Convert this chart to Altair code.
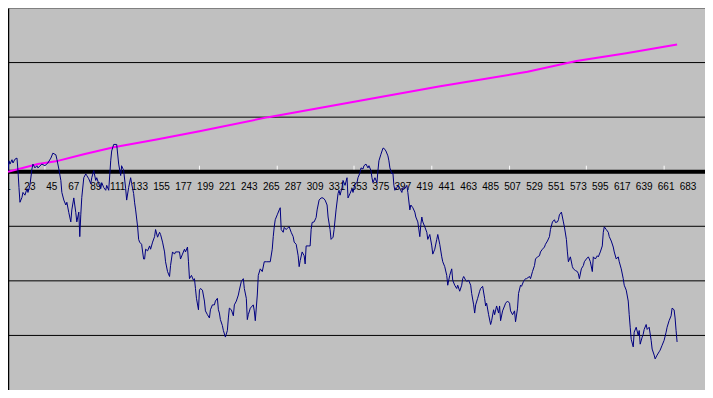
import altair as alt
import pandas as pd

# Category axis labels (every 22nd category)
label_cats = [1, 23, 45, 67, 89, 111, 133, 155, 177, 199, 221, 243, 265, 287, 309,
              331, 353, 375, 397, 419, 441, 463, 485, 507, 529, 551, 573, 595, 617,
              639, 661, 683]

# Small tick marks on the category axis
axis_tick_cats = [38, 116, 193, 271, 348, 426, 504, 581, 659]

# Horizontal gridline levels
grid_values = [-3, -2, -1, 1, 2]

# Rising (magenta) series
trend_cat = [1, 31, 49, 77, 107, 150, 193, 262, 344, 433, 522, 571, 621, 672]
trend_val = [0.00, 0.14, 0.19, 0.32, 0.45, 0.59, 0.74, 1.00, 1.27, 1.56, 1.83, 2.03, 2.17, 2.33]

# Random-walk (navy) series: (category, value)
walk_points = [
    (1, 0.02), (2, 0.20), (3, 0.14), (5, 0.22), (6, 0.16), (8, 0.23), (10, 0.25), (11, 0.02),
    (12, -0.29), (13, -0.56), (15, -0.47), (16, -0.38), (18, -0.43), (20, -0.31), (21, -0.38),
    (23, -0.25), (25, 0.05), (26, 0.14), (28, 0.07), (30, 0.11), (31, 0.07), (35, 0.14),
    (38, 0.11), (41, 0.16), (44, 0.25), (46, 0.34), (49, 0.31), (50, 0.23), (52, 0.05),
    (54, -0.16), (55, -0.38), (57, -0.52), (59, -0.61), (60, -0.56), (62, -0.75), (64, -0.92),
    (65, -0.70), (67, -0.48), (69, -0.75), (70, -0.92), (72, -0.74), (73, -1.19), (74, -0.79),
    (75, -0.47), (77, -0.11), (79, -0.04), (80, -0.07), (82, -0.13), (84, -0.22), (85, -0.11),
    (87, 0.02), (89, -0.16), (90, -0.11), (92, -0.22), (94, -0.31), (95, -0.20), (97, -0.29),
    (99, -0.34), (100, -0.25), (102, -0.34), (104, 0.20), (105, 0.38), (107, 0.50), (110, 0.50),
    (112, 0.14), (114, -0.07), (115, 0.11), (117, 0.02), (119, -0.31), (120, -0.52),
    (122, -0.29), (124, -0.11), (125, -0.22), (127, -0.40), (128, -0.57), (129, -0.70),
    (131, -1.01), (132, -1.24), (133, -1.29), (135, -1.33), (137, -1.60), (138, -1.60),
    (139, -1.42), (141, -1.45), (143, -1.36), (144, -1.42), (146, -1.29), (148, -1.19),
    (149, -1.06), (151, -1.20), (153, -1.11), (154, -1.15), (156, -1.29), (158, -1.47),
    (159, -1.65), (161, -1.83), (163, -1.92), (164, -1.72), (166, -1.47), (168, -1.51),
    (169, -1.47), (173, -1.47), (174, -1.60), (176, -1.51), (178, -1.42), (179, -1.47),
    (181, -1.38), (182, -1.65), (183, -1.96), (185, -1.90), (187, -1.99), (188, -1.96),
    (189, -2.14), (190, -2.32), (192, -2.53), (193, -2.17), (194, -2.14), (196, -2.17),
    (198, -2.37), (199, -2.55), (201, -2.62), (203, -2.68), (204, -2.53), (206, -2.44),
    (208, -2.44), (209, -2.37), (211, -2.32), (212, -2.53), (213, -2.59), (214, -2.71),
    (216, -2.82), (217, -2.91), (219, -3.03), (221, -2.91), (222, -2.68), (223, -2.50),
    (225, -2.53), (227, -2.64), (228, -2.44), (230, -2.37), (232, -2.26), (233, -2.17),
    (235, -2.01), (237, -1.96), (238, -2.14), (240, -2.32), (241, -2.71), (242, -2.62),
    (244, -2.50), (247, -2.44), (248, -2.55), (249, -2.73), (251, -2.26), (252, -1.90),
    (254, -1.78), (256, -1.83), (258, -1.65), (260, -1.65), (264, -1.65), (266, -1.42),
    (267, -1.19), (268, -1.01), (269, -0.88), (271, -0.79), (273, -0.70), (274, -0.66),
    (275, -1.06), (277, -1.11), (278, -1.02), (280, -1.06), (282, -1.02), (283, -1.01),
    (285, -1.11), (287, -1.19), (288, -1.29), (290, -1.33), (292, -1.54), (293, -1.74),
    (294, -1.63), (296, -1.47), (298, -1.54), (299, -1.69), (300, -1.36), (302, -1.36),
    (304, -1.36), (305, -1.06), (306, -0.93), (308, -0.92), (310, -0.84), (311, -0.70),
    (313, -0.52), (315, -0.48), (317, -0.48), (319, -0.52), (321, -0.61), (322, -0.83),
    (324, -1.06), (325, -1.24), (327, -1.20), (328, -1.06), (330, -0.70), (332, -0.40),
    (333, -0.34), (334, -0.43), (336, -0.29), (337, -0.16), (339, -0.25), (341, -0.11),
    (342, -0.48), (344, -0.40), (346, -0.31), (347, -0.38), (349, -0.22), (351, -0.20),
    (352, -0.11), (354, -0.02), (355, 0.07), (357, 0.05), (358, 0.11), (360, 0.14),
    (362, 0.07), (363, 0.11), (365, 0.02), (366, -0.11), (367, -0.20), (369, -0.11),
    (371, -0.20), (372, 0.02), (373, 0.20), (375, 0.32), (377, 0.43), (378, 0.43),
    (380, 0.38), (382, 0.29), (383, 0.20), (384, 0.07), (386, -0.04), (387, -0.02),
    (388, -0.25), (389, -0.34), (391, -0.29), (392, -0.25), (394, -0.31), (396, -0.38),
    (397, -0.29), (399, -0.31), (401, -0.25), (402, -0.38), (404, -0.70), (405, -0.61),
    (407, -0.66), (409, -0.74), (410, -0.83), (412, -0.92), (414, -1.19), (415, -0.97),
    (416, -0.83), (417, -0.92), (419, -1.01), (421, -1.11), (422, -1.24), (424, -1.15),
    (426, -1.36), (427, -1.51), (429, -1.42), (431, -1.24), (432, -1.15), (434, -1.33),
    (436, -1.56), (437, -1.65), (439, -1.74), (441, -1.90), (442, -2.08), (444, -1.90),
    (446, -1.78), (447, -1.99), (449, -2.08), (451, -2.14), (452, -2.08), (454, -2.19),
    (456, -2.08), (457, -1.96), (458, -1.92), (460, -1.99), (461, -2.01), (463, -1.99),
    (465, -2.08), (466, -2.23), (468, -2.44), (469, -2.59), (470, -2.44), (472, -2.32),
    (474, -2.19), (475, -2.14), (477, -2.10), (479, -2.32), (480, -2.46), (481, -2.41),
    (483, -2.62), (485, -2.80), (486, -2.73), (488, -2.53), (489, -2.62), (491, -2.46),
    (493, -2.59), (494, -2.46), (495, -2.73), (497, -2.55), (499, -2.46), (500, -2.41),
    (502, -2.37), (504, -2.41), (505, -2.55), (507, -2.62), (509, -2.55), (510, -2.75),
    (512, -2.50), (513, -2.23), (515, -2.08), (516, -2.10), (518, -2.01), (520, -1.96),
    (521, -1.96), (524, -1.92), (525, -1.96), (527, -1.83), (529, -1.72), (530, -1.60),
    (532, -1.56), (534, -1.54), (535, -1.47), (537, -1.42), (539, -1.38), (540, -1.33),
    (542, -1.27), (544, -1.19), (545, -1.06), (547, -0.92), (549, -0.88), (550, -0.93),
    (552, -0.92), (553, -0.88), (554, -0.79), (556, -0.74), (558, -0.92), (559, -1.01),
    (561, -1.24), (562, -1.47), (563, -1.65), (565, -1.56), (567, -1.74), (568, -1.78),
    (570, -1.81), (572, -1.83), (573, -1.87), (574, -1.96), (576, -1.78), (578, -1.72),
    (579, -1.65), (581, -1.60), (583, -1.56), (584, -1.60), (585, -1.65), (587, -1.83),
    (588, -1.56), (590, -1.60), (592, -1.54), (593, -1.56), (595, -1.47), (597, -1.36),
    (598, -1.11), (599, -1.01), (601, -1.06), (603, -1.11), (604, -1.19), (606, -1.27),
    (608, -1.38), (609, -1.47), (611, -1.60), (613, -1.56), (614, -1.65), (616, -1.78),
    (618, -1.96), (619, -2.08), (621, -2.17), (623, -2.37), (624, -2.62), (625, -2.85),
    (626, -3.07), (628, -3.21), (629, -2.94), (631, -2.85), (633, -3.00), (634, -2.91),
    (635, -3.16), (637, -3.03), (638, -2.98), (639, -2.89), (641, -2.80), (642, -2.89),
    (644, -2.85), (646, -3.09), (647, -3.25), (649, -3.36), (650, -3.43), (652, -3.36),
    (654, -3.30), (655, -3.27), (657, -3.18), (659, -3.09), (661, -2.94), (662, -2.85),
    (664, -2.73), (666, -2.64), (667, -2.50), (669, -2.53), (670, -2.68), (671, -2.91),
    (672, -3.12),
]
walk_cat = [p[0] for p in walk_points]
walk_val = [p[1] for p in walk_points]

xscale = alt.Scale(domain=[1, 700], nice=False, zero=False)
yscale = alt.Scale(domain=[-4, 3], nice=False, zero=False)

walk_df = pd.DataFrame({"cat": walk_cat, "val": walk_val})
trend_df = pd.DataFrame({"cat": trend_cat, "val": trend_val})
label_df = pd.DataFrame({"cat": label_cats})
tick_df = pd.DataFrame({"cat": axis_tick_cats})
grid_df = pd.DataFrame({"val": grid_values})
zero_df = pd.DataFrame({"val": [0]})

# y axis: only its black domain line on the left (no labels)
yaxis = alt.Axis(values=[0], grid=False, labels=False, ticks=False,
                 domain=True, domainColor="black", domainWidth=1.5, title=None)

grid_layer = alt.Chart(grid_df).mark_rule(color="black", strokeWidth=1).encode(
    y=alt.Y("val:Q", scale=yscale, axis=yaxis),
)

tick_layer = alt.Chart(tick_df).mark_rule(color="white", strokeWidth=1).encode(
    x=alt.X("cat:Q", scale=xscale, axis=None),
    y=alt.datum(0),
    y2=alt.datum(0.11),
)

zero_layer = alt.Chart(zero_df).mark_rule(color="black", strokeWidth=4).encode(
    y=alt.Y("val:Q", scale=yscale, axis=yaxis),
)

label_layer = alt.Chart(label_df).mark_text(
    font="Liberation Sans", fontSize=10, color="black", dy=15, baseline="middle"
).encode(
    x=alt.X("cat:Q", scale=xscale, axis=None),
    y=alt.datum(0),
    text=alt.Text("cat:Q", format="d"),
)

walk_layer = alt.Chart(walk_df).mark_line(color="#000080", strokeWidth=1).encode(
    x=alt.X("cat:Q", scale=xscale, axis=None),
    y=alt.Y("val:Q", scale=yscale, axis=yaxis),
)

trend_layer = alt.Chart(trend_df).mark_line(color="#ff00ff", strokeWidth=2).encode(
    x=alt.X("cat:Q", scale=xscale, axis=None),
    y=alt.Y("val:Q", scale=yscale, axis=yaxis),
)

chart = alt.layer(
    grid_layer, tick_layer, zero_layer, label_layer, trend_layer, walk_layer
).properties(
    width=697, height=382,
    autosize=alt.AutoSizeParams(type="none"),
    padding=0,
    background="white",
).configure_view(
    fill="#c0c0c0", stroke="#808080", strokeWidth=1
)

chart.save("out.html", embed_options={"renderer": "svg", "actions": False})
